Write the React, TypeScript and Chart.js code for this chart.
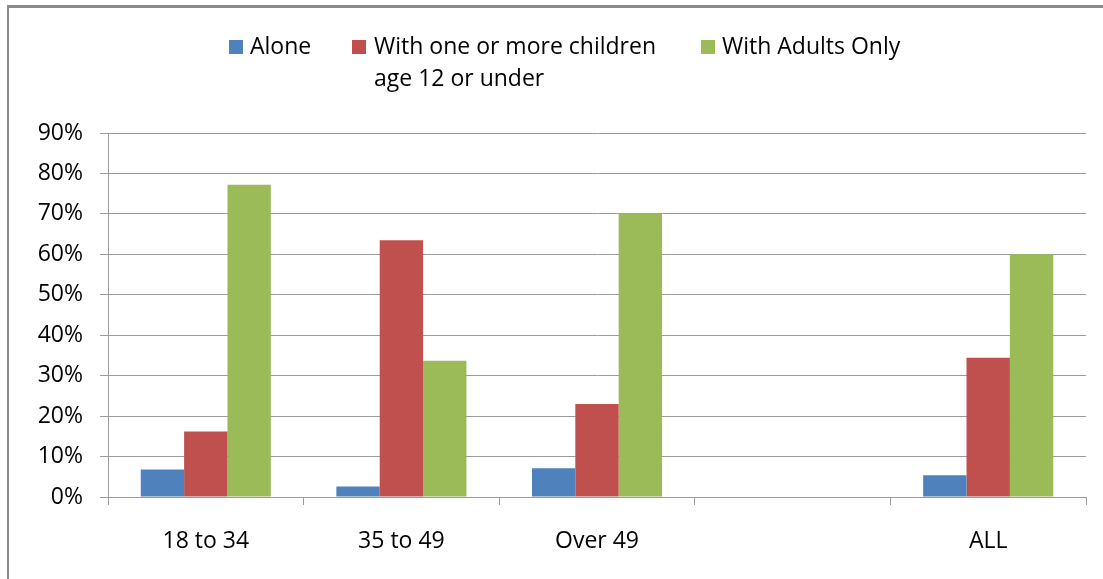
import React, { useEffect, useRef } from "react";
import { Chart, registerables } from "chart.js";

Chart.register(...registerables);

const categories = ["18 to 34", "35 to 49", "Over 49", "", "ALL"];
const aloneValues = [6.8, 2.6, 7.1, null, 5.4];
const childrenValues = [16.2, 63.5, 23.0, null, 34.4];
const adultsValues = [77.2, 33.7, 70.1, null, 60.0];
const seriesNames = ["Alone", "With one or more children\nage 12 or under", "With Adults Only"];
const seriesColors = ["#4F81BD", "#C0504D", "#9BBB59"];

const FONT = "'Open Sans', 'Noto Sans', sans-serif";
const GRID = "#9c9c9c";

export default function App() {
  const canvasRef = useRef<HTMLCanvasElement | null>(null);

  useEffect(() => {
    const canvas = canvasRef.current;
    if (!canvas) return;
    const chart = new Chart(canvas, {
      type: "bar",
      data: {
        labels: categories,
        datasets: [
          { label: seriesNames[0], data: aloneValues, backgroundColor: seriesColors[0] },
          { label: seriesNames[1], data: childrenValues, backgroundColor: seriesColors[1] },
          { label: seriesNames[2], data: adultsValues, backgroundColor: seriesColors[2] },
        ],
      },
      options: {
        responsive: false,
        maintainAspectRatio: false,
        animation: false,
        layout: { padding: { left: 0, top: 133, right: 17, bottom: 22 } },
        datasets: { bar: { categoryPercentage: 0.665, barPercentage: 1, borderWidth: 0 } },
        plugins: { legend: { display: false }, tooltip: { enabled: false } },
        scales: {
          x: {
            offset: true,
            afterFit: (s: any) => { s.height = 60; },
            grid: { offset: true, drawOnChartArea: false, drawTicks: true, tickLength: 8, color: GRID, lineWidth: 1 },
            border: { display: true, color: GRID, width: 1 },
            ticks: { color: "#000", font: { family: FONT, size: 23 }, padding: 23, maxRotation: 0, autoSkip: false },
          },
          y: {
            min: 0,
            max: 90,
            afterFit: (s: any) => { s.width = 108; },
            grid: { drawTicks: true, tickLength: 8, color: GRID, lineWidth: 1 },
            border: { display: true, color: GRID, width: 1 },
            ticks: {
              stepSize: 10,
              color: "#000",
              padding: 17,
              font: { family: FONT, size: 23 },
              callback: (v: any) => `${v}%`,
            },
          },
        },
      },
    });
    return () => chart.destroy();
  }, []);

  const legendText: React.CSSProperties = {
    position: "absolute",
    fontFamily: FONT,
    fontSize: 23,
    lineHeight: "32px",
    color: "#000",
    whiteSpace: "pre",
  };
  const box = (left: number, color: string): React.CSSProperties => ({
    position: "absolute",
    left,
    top: 40,
    width: 14,
    height: 14,
    background: color,
  });

  return (
    <div style={{ position: "absolute", left: 0, top: 0, width: 1103, height: 579, overflow: "hidden", background: "#fff" }}>
      <div style={{ position: "absolute", left: 7, top: 5, width: 1200, height: 700, border: "2px solid #8a8a8a", borderTopWidth: 3 }} />
      <canvas ref={canvasRef} width={1103} height={579} style={{ position: "absolute", left: 0, top: 0, width: 1103, height: 579 }} />
      <div style={box(229, seriesColors[0])} />
      <div style={{ ...legendText, left: 250, top: 29 }}>{seriesNames[0]}</div>
      <div style={box(352, seriesColors[1])} />
      <div style={{ ...legendText, left: 374, top: 29 }}>{seriesNames[1]}</div>
      <div style={box(701, seriesColors[2])} />
      <div style={{ ...legendText, left: 722, top: 29 }}>{seriesNames[2]}</div>
    </div>
  );
}
